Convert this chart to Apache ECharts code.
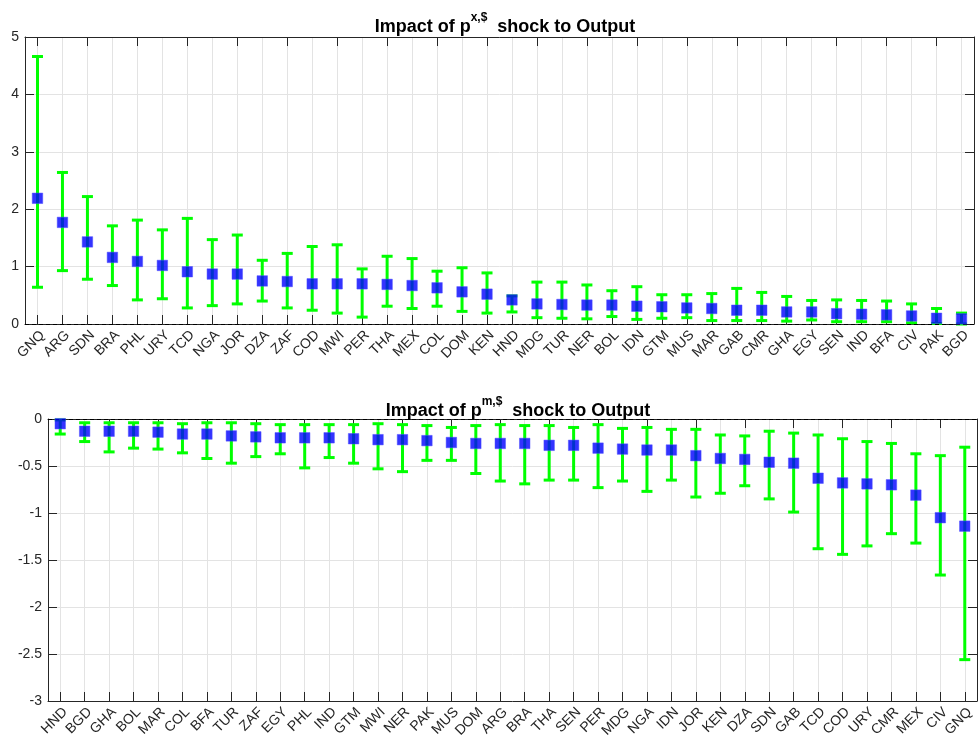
<!DOCTYPE html>
<html>
<head>
<meta charset="utf-8">
<script src="https://cdn.jsdelivr.net/npm/echarts@6/dist/echarts.min.js"></script>
<style>html,body{margin:0;padding:0;background:#fff;}#c{width:979px;height:744px;}</style>
</head>
<body>
<div id="c"></div>
<script>
// ---- Top panel: Impact of p^{x,$} shock to Output ----
const catsTop = ['GNQ','ARG','SDN','BRA','PHL','URY','TCD','NGA','JOR','DZA','ZAF','COD','MWI','PER','THA','MEX','COL','DOM','KEN','HND','MDG','TUR','NER','BOL','IDN','GTM','MUS','MAR','GAB','CMR','GHA','EGY','SEN','IND','BFA','CIV','PAK','BGD'];
const meanTop = [2.19,1.77,1.43,1.16,1.09,1.02,0.91,0.87,0.87,0.75,0.74,0.70,0.70,0.70,0.69,0.67,0.63,0.56,0.52,0.42,0.35,0.34,0.33,0.33,0.31,0.30,0.28,0.27,0.24,0.24,0.21,0.21,0.18,0.17,0.16,0.14,0.10,0.09];
const lowTop  = [0.64,0.93,0.78,0.67,0.42,0.44,0.28,0.32,0.35,0.40,0.28,0.24,0.19,0.12,0.31,0.27,0.31,0.22,0.19,0.21,0.11,0.10,0.09,0.13,0.08,0.10,0.11,0.06,0.06,0.06,0.05,0.07,0.04,0.04,0.04,0.02,0.01,0.00];
const highTop = [4.66,2.64,2.22,1.71,1.81,1.64,1.84,1.47,1.55,1.11,1.23,1.35,1.38,0.96,1.18,1.14,0.92,0.98,0.89,0.49,0.73,0.73,0.68,0.58,0.65,0.51,0.51,0.53,0.62,0.55,0.48,0.41,0.42,0.41,0.40,0.35,0.27,0.19];
const yTicksTop = {min: 0, max: 5, interval: 1};

// ---- Bottom panel: Impact of p^{m,$} shock to Output ----
const catsBot = ['HND','BGD','GHA','BOL','MAR','COL','BFA','TUR','ZAF','EGY','PHL','IND','GTM','MWI','NER','PAK','MUS','DOM','ARG','BRA','THA','SEN','PER','MDG','NGA','IDN','JOR','KEN','DZA','SDN','GAB','TCD','COD','URY','CMR','MEX','CIV','GNQ'];
const meanBot = [-0.05,-0.13,-0.13,-0.13,-0.14,-0.16,-0.16,-0.18,-0.19,-0.20,-0.20,-0.20,-0.21,-0.22,-0.22,-0.23,-0.25,-0.26,-0.26,-0.26,-0.28,-0.28,-0.31,-0.32,-0.33,-0.33,-0.39,-0.42,-0.43,-0.46,-0.47,-0.63,-0.68,-0.69,-0.70,-0.81,-1.05,-1.14];
const lowBot  = [-0.16,-0.24,-0.35,-0.31,-0.32,-0.36,-0.42,-0.47,-0.40,-0.37,-0.52,-0.41,-0.47,-0.53,-0.56,-0.44,-0.44,-0.58,-0.66,-0.69,-0.65,-0.65,-0.73,-0.66,-0.77,-0.65,-0.83,-0.79,-0.71,-0.85,-0.99,-1.38,-1.44,-1.35,-1.22,-1.32,-1.66,-2.56];
const highBot = [-0.01,-0.04,-0.04,-0.04,-0.04,-0.05,-0.04,-0.04,-0.05,-0.06,-0.06,-0.06,-0.06,-0.05,-0.06,-0.07,-0.09,-0.07,-0.06,-0.07,-0.07,-0.09,-0.06,-0.10,-0.09,-0.11,-0.11,-0.17,-0.18,-0.13,-0.15,-0.17,-0.21,-0.24,-0.26,-0.37,-0.39,-0.30];
const yTicksBot = {min: -3, max: 0, interval: 0.5};

const titleTop = ['Impact of p', 'x,$', '  shock to Output'];
const titleBot = ['Impact of p', 'm,$', '  shock to Output'];

const AX = '#262626';
const GRID = '#e3e3e3';
const FONT = 'Liberation Sans, Arial, Helvetica, sans-serif';

function richTitle(parts) {
  return '{a|' + parts[0] + '}{s|' + parts[1] + '}{a|' + parts[2] + '}';
}
const titleRich = {
  a: {fontSize: 18, fontWeight: 'bold', color: '#000', fontFamily: FONT, lineHeight: 24, verticalAlign: 'bottom'},
  s: {fontSize: 12, fontWeight: 'bold', color: '#000', fontFamily: FONT, lineHeight: 24, verticalAlign: 'top'}
};

function xMain(cats, gi) {
  return {
    type: 'category', data: cats, gridIndex: gi, position: 'bottom', boundaryGap: true,
    axisLine: {show: true, onZero: false, lineStyle: {color: AX, width: 1}},
    axisTick: {show: true, inside: true, length: 9, alignWithLabel: true, lineStyle: {color: AX}},
    axisLabel: {rotate: 45, fontSize: 14, color: AX, fontFamily: FONT, margin: 4, interval: 0, verticalAlign: 'top'},
    splitLine: {show: true, alignWithLabel: true, lineStyle: {color: GRID, width: 1}}
  };
}
function xTop(cats, gi) {
  return {
    type: 'category', data: cats, gridIndex: gi, position: 'top', boundaryGap: true,
    axisLine: {show: true, onZero: false, lineStyle: {color: AX, width: 1}},
    axisTick: {show: true, inside: true, length: 9, alignWithLabel: true, lineStyle: {color: AX}},
    axisLabel: {show: false}, splitLine: {show: false}
  };
}
function yMain(t, gi) {
  return {
    type: 'value', gridIndex: gi, position: 'left', min: t.min, max: t.max, interval: t.interval,
    axisLine: {show: true, onZero: false, lineStyle: {color: AX, width: 1}},
    axisTick: {show: true, inside: true, length: 9, lineStyle: {color: AX}},
    axisLabel: {fontSize: 14, color: AX, fontFamily: FONT, margin: 6},
    splitLine: {show: true, lineStyle: {color: GRID, width: 1}}
  };
}
function yRight(t, gi) {
  return {
    type: 'value', gridIndex: gi, position: 'right', min: t.min, max: t.max, interval: t.interval,
    axisLine: {show: true, onZero: false, lineStyle: {color: AX, width: 1}},
    axisTick: {show: true, inside: true, length: 9, lineStyle: {color: AX}},
    axisLabel: {show: false}, splitLine: {show: false}
  };
}

function errSeries(low, high, xi, yi) {
  return {
    type: 'custom', xAxisIndex: xi, yAxisIndex: yi, z: 3,
    data: low.map((l, i) => [i, l, high[i]]),
    encode: {x: 0, y: [1, 2]},
    renderItem: function (params, api) {
      const i = api.value(0);
      const p1 = api.coord([i, api.value(1)]);
      const p2 = api.coord([i, api.value(2)]);
      const hw = 5.5;
      const st = {stroke: '#00ff00', lineWidth: 3, fill: null};
      return {type: 'group', children: [
        {type: 'line', shape: {x1: p1[0], y1: p1[1], x2: p2[0], y2: p2[1]}, style: st},
        {type: 'line', shape: {x1: p1[0]-hw, y1: p1[1], x2: p1[0]+hw, y2: p1[1]}, style: st},
        {type: 'line', shape: {x1: p2[0]-hw, y1: p2[1], x2: p2[0]+hw, y2: p2[1]}, style: st}
      ]};
    }
  };
}
function markSeries(vals, xi, yi) {
  return {
    type: 'scatter', xAxisIndex: xi, yAxisIndex: yi, z: 5,
    data: vals, symbol: 'rect', symbolSize: 10.5,
    itemStyle: {color: '#0000ff', borderColor: '#4d4dff', borderWidth: 0.6},
    markLine: {
      silent: true, symbol: 'none', label: {show: false},
      lineStyle: {color: '#000', type: [4, 3], width: 1},
      data: [{yAxis: 0}]
    }
  };
}

const chart = echarts.init(document.getElementById('c'), null, {renderer: 'canvas'});
chart.setOption({
  animation: false,
  backgroundColor: '#fff',
  title: [
    {text: richTitle(titleTop), left: 500, top: 7, textAlign: 'center', textStyle: {rich: titleRich}},
    {text: richTitle(titleBot), left: 513, top: 391, textAlign: 'center', textStyle: {rich: titleRich}}
  ],
  grid: [
    {left: 25, right: 5, top: 37, bottom: 420, containLabel: false},
    {left: 48, right: 2, top: 419, bottom: 43, containLabel: false}
  ],
  xAxis: [xMain(catsTop, 0), xTop(catsTop, 0), xMain(catsBot, 1), xTop(catsBot, 1)],
  yAxis: [yMain(yTicksTop, 0), yRight(yTicksTop, 0), yMain(yTicksBot, 1), yRight(yTicksBot, 1)],
  series: [
    errSeries(lowTop, highTop, 0, 0),
    markSeries(meanTop, 0, 0),
    errSeries(lowBot, highBot, 2, 2),
    markSeries(meanBot, 2, 2)
  ]
});
</script>
</body>
</html>
